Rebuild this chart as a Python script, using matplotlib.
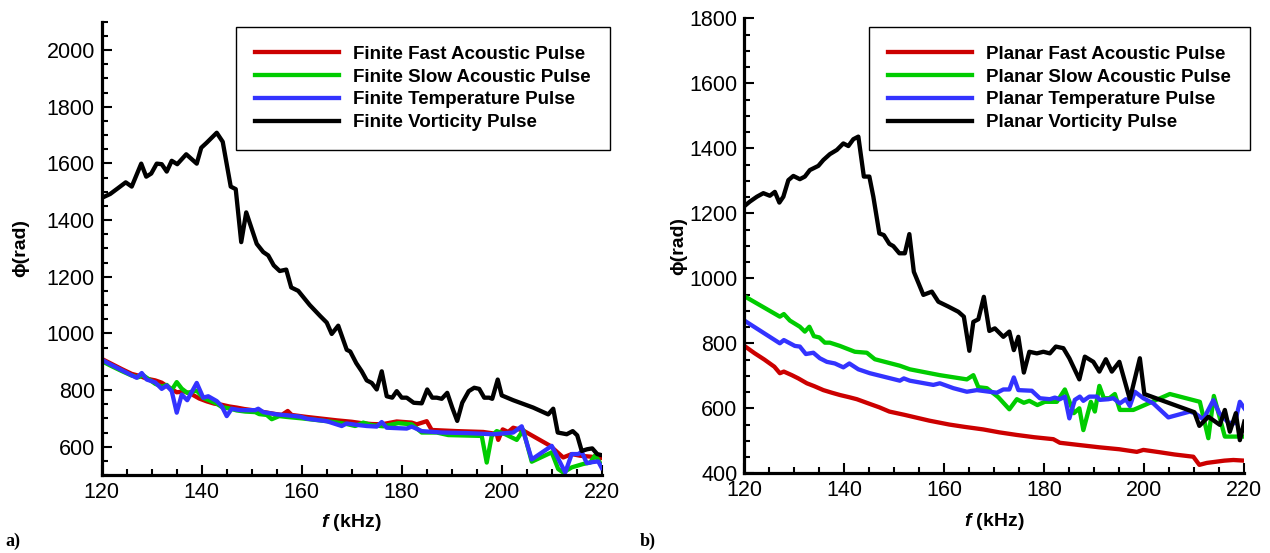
import matplotlib
matplotlib.use('Agg')
import matplotlib.pyplot as plt
from matplotlib.ticker import MultipleLocator

plt.rcParams['font.family'] = ['Liberation Sans', 'DejaVu Sans']
plt.rcParams['mathtext.fontset'] = 'custom'
plt.rcParams['mathtext.it'] = 'Liberation Sans:italic:bold'

# ---- a) finite pulses ----
fin_fast_f = [120, 122, 124, 126, 127.5, 129, 130.7, 132, 133, 135, 136.5, 138, 139.5, 141, 142.5,
              144, 145.5, 147, 148.5, 150.5, 152.5, 154.5, 156, 157.2, 158, 161, 164, 167, 170, 172,
              174, 176, 179, 182, 183, 185, 186, 191, 196.3, 199, 199.3, 200.2, 201.3, 202.3, 204.3,
              207, 209.7, 212.3, 214, 215.7, 217.7, 220]
fin_fast = [910, 892, 874, 857, 850, 840, 834, 826, 814, 792, 795, 785, 770, 760, 752,
            748, 742, 738, 733, 728, 722, 716, 712, 726, 712, 705, 699, 693, 688, 683,
            680, 679, 689, 685, 679, 690, 659, 655, 652, 645, 624, 661, 652, 667, 657,
            630, 603, 562, 574, 568, 565, 560]

fin_slow_f = [120, 122, 124, 126, 127.3, 128.3, 130.7, 132, 133, 134, 135, 136, 137.1, 139, 140.3,
              141.3, 143, 144, 145.5, 147, 148.7, 150.7, 151.5, 153, 154, 155.5, 157, 160, 163, 166,
              169, 170.7, 172.3, 174, 176.3, 179.3, 182, 184, 187, 189.3, 196, 197, 198, 199, 200.7,
              203, 204.3, 206, 210, 211.3, 212.3, 214, 216.3, 217.7, 218.7, 220]
fin_slow = [902, 884, 867, 851, 845, 852, 822, 812, 818, 800, 828, 805, 790, 798, 772,
            765, 752, 740, 735, 728, 724, 722, 715, 712, 697, 708, 705, 700, 694, 688,
            680, 673, 685, 676, 672, 683, 679, 650, 650, 641, 638, 544, 638, 655, 644,
            624, 659, 547, 580, 521, 509, 527, 539, 544, 570, 533]

fin_temp_f = [120, 122, 124, 127, 128, 129, 130.7, 132, 133, 134, 135, 136, 137.1, 139, 140.3,
              141.3, 143, 144, 145, 146, 147.7, 150.7, 151.3, 152.3, 155, 157, 159.7, 161, 165, 168,
              169, 171, 173, 175, 176, 177, 181, 182, 184, 188, 193, 198.3, 202.3, 204, 206,
              210, 212.7, 214, 215.3, 216, 217, 218.3, 219.3, 220]
fin_temp = [907, 888, 870, 843, 860, 837, 827, 804, 816, 796, 720, 784, 764, 825, 773,
            778, 761, 743, 708, 734, 729, 729, 734, 722, 714, 711, 706, 699, 690, 673,
            682, 677, 673, 671, 687, 667, 664, 671, 655, 650, 648, 644, 650, 672, 555,
            603, 509, 574, 574, 582, 542, 546, 548, 525]

fin_vort_f = [120.0, 121.7, 123.3, 124.8, 126.0, 127.9, 128.9, 129.9, 131.0, 132.0, 133.0, 134.0,
              135.1, 136.9, 139.0, 139.9, 141.0, 143.0, 144.2, 145.8, 146.8, 147.9, 148.9, 151.0,
              152.3, 153.3, 154.4, 155.6, 156.9, 157.9, 159.3, 161.6, 163.7, 165.0, 166.0, 167.3,
              169.0, 169.7, 170.9, 172.0, 173.0, 174.0, 175.0, 176.0, 177.0, 178.1, 179.0, 180.0,
              181.0, 182.4, 184.0, 185.1, 186.1, 187.0, 188.0, 189.1, 190.1, 191.1, 192.1, 193.4,
              194.5, 195.5, 196.5, 197.5, 198.1, 199.2, 200.0, 202.3, 206.3, 209.3, 210.3, 211.2,
              213.0, 214.2, 215.1, 216.0, 217.1, 218.1, 219.1, 220.0]
fin_vort = [1478, 1492, 1513, 1533, 1518, 1599, 1553, 1564, 1599, 1597, 1571, 1609,
            1597, 1632, 1599, 1655, 1673, 1708, 1676, 1518, 1509, 1322, 1427, 1316,
            1287, 1275, 1240, 1220, 1225, 1162, 1150, 1100, 1061, 1038, 998, 1027,
            942, 936, 895, 866, 834, 825, 802, 866, 778, 773, 796, 773,
            773, 755, 753, 802, 773, 773, 769, 790, 738, 691, 755, 796,
            808, 804, 773, 773, 769, 837, 781, 764, 738, 714, 734, 650,
            644, 655, 640, 585, 591, 594, 574, 570]

# ---- b) planar pulses ----
pl_fast_f = [120, 122, 124, 126, 127.1, 127.9, 129.5, 130.8, 132.5, 134, 135.8, 137.5, 139.1, 141,
             142.5, 145, 147, 149, 152, 154.5, 157, 161, 164, 167.8, 171, 174.5, 178, 181.8, 183.1,
             187, 191, 195, 198.5, 199.8, 203, 206, 209.8, 211, 212.5, 214.5, 216, 217.8, 220]
pl_fast = [792, 770, 750, 728, 708, 713, 702, 692, 677, 668, 656, 648, 641, 634,
           628, 614, 603, 590, 580, 571, 562, 550, 543, 535, 526, 518, 511, 505, 494,
           487, 480, 474, 466, 472, 465, 458, 451, 426, 432, 436, 439, 441, 439]

pl_slow_f = [120, 127.1, 127.9, 129.1, 131.1, 132.1, 133.0, 133.9, 135.0, 136.1, 137.1, 139.1,
             142.1, 144.5, 146.1, 151.1, 153.1, 159.1, 164.5, 165.8, 166.8, 168.5, 170.8, 173.0,
             174.5, 175.9, 177.0, 178.6, 180.1, 182.5, 184.1, 185.9, 187.0, 187.8, 189.3, 190.1,
             191.0, 191.9, 193.0, 194.1, 195.1, 197.8, 200.5, 205.1, 211.1, 212.8, 213.9, 216.1, 220]
pl_slow = [945, 882, 890, 870, 851, 836, 851, 822, 818, 802, 802, 792,
           774, 771, 751, 731, 720, 702, 689, 702, 665, 662, 634, 597,
           628, 617, 623, 610, 620, 620, 658, 585, 600, 533, 620, 590,
           669, 631, 631, 644, 595, 595, 613, 644, 620, 508, 638, 513, 513]

pl_temp_f = [120, 127.1, 127.9, 130.1, 131.1, 132.3, 133.8, 135.1, 136.5, 138.1, 139.8, 141.0,
             142.8, 145.1, 151.1, 151.9, 153.1, 157.8, 159.1, 161.8, 164.5, 166.5, 170.5, 171.8,
             173.0, 173.9, 174.8, 177.5, 179.1, 181.1, 182.1, 183.1, 184.1, 185.0, 186.1, 187.1,
             187.8, 189.0, 190.5, 191.1, 192.8, 193.8, 195.1, 196.3, 197.1, 198.1, 199.8, 201.8,
             204.8, 209.1, 210.1, 211.8, 213.8, 215.0, 216.8, 218.1, 219.1, 220]
pl_temp = [870, 800, 810, 792, 790, 767, 771, 754, 743, 738, 726, 738,
           720, 708, 685, 692, 685, 672, 677, 662, 651, 656, 648, 658,
           658, 695, 656, 654, 631, 628, 633, 628, 636, 569, 626, 636,
           623, 636, 636, 626, 628, 631, 615, 628, 607, 651, 631, 615,
           572, 590, 585, 566, 625, 585, 556, 554, 620, 600]

pl_vort_f = [120.0, 121.1, 122.5, 123.8, 125.1, 126.1, 127.0, 127.8, 128.8, 129.8, 131.1, 132.1,
             133.1, 134.8, 135.8, 137.1, 138.5, 139.8, 140.8, 141.8, 142.8, 143.9, 145.0, 145.8,
             147.0, 147.9, 149.0, 149.8, 151.0, 152.1, 153.0, 153.9, 155.8, 157.5, 158.8, 160.8,
             162.8, 163.9, 165.0, 165.8, 166.8, 167.9, 169.0, 170.1, 171.8, 173.0, 173.9, 174.8,
             175.9, 177.0, 178.5, 179.8, 181.1, 182.3, 183.8, 185.0, 187.0, 188.1, 189.8, 191.0,
             192.3, 193.5, 195.0, 197.1, 199.1, 200.0, 210.0, 211.0, 212.8, 215.1, 216.1, 217.1,
             218.3, 219.1, 220.0]
pl_vort = [1222, 1236, 1251, 1262, 1254, 1266, 1233, 1251, 1302, 1315, 1305, 1313,
           1333, 1346, 1364, 1382, 1395, 1415, 1407, 1428, 1436, 1313, 1313, 1251,
           1138, 1133, 1106, 1099, 1077, 1077, 1136, 1020, 949, 959, 928, 913,
           897, 882, 777, 866, 874, 943, 838, 846, 820, 836, 779, 820,
           710, 774, 769, 774, 769, 790, 785, 754, 689, 759, 743, 713,
           751, 713, 743, 628, 754, 644, 588, 546, 574, 549, 595, 528,
           585, 502, 559]

colors = ['#cc0000', '#00cc00', '#3333ff', 'black']
labels_a = ['Finite Fast Acoustic Pulse', 'Finite Slow Acoustic Pulse',
            'Finite Temperature Pulse', 'Finite Vorticity Pulse']
labels_b = ['Planar Fast Acoustic Pulse', 'Planar Slow Acoustic Pulse',
            'Planar Temperature Pulse', 'Planar Vorticity Pulse']


def style_axes(ax, ylim, ylab_x):
    ax.set_xlim(120, 220)
    ax.set_ylim(*ylim)
    ax.spines['top'].set_visible(False)
    ax.spines['right'].set_visible(False)
    ax.spines['left'].set_linewidth(2.3)
    ax.spines['bottom'].set_linewidth(2.3)
    ax.xaxis.set_major_locator(MultipleLocator(20))
    ax.xaxis.set_minor_locator(MultipleLocator(5))
    ax.yaxis.set_major_locator(MultipleLocator(200))
    ax.yaxis.set_minor_locator(MultipleLocator(50))
    ax.tick_params(which='both', direction='in', width=1.5, labelsize=15.5, pad=5)
    ax.tick_params(which='major', length=7.5)
    ax.tick_params(which='minor', length=4)
    ax.set_ylabel('\u03d5(rad)', fontsize=14, fontweight='bold')
    ax.yaxis.set_label_coords(ylab_x, 0.5)
    ax.set_xlabel(r'$f$ (kHz)', fontsize=14, fontweight='bold')
    ax.xaxis.set_label_coords(0.5, -0.082)


def add_legend(ax, x0):
    leg = ax.legend(loc='upper left', bbox_to_anchor=(x0, 0.951),
                    bbox_transform=ax.figure.transFigure, borderaxespad=0,
                    prop={'weight': 'bold', 'size': 13.5}, handlelength=4.5,
                    handletextpad=0.75, labelspacing=0.3, borderpad=1.0,
                    fancybox=False, framealpha=1, edgecolor='black')
    leg.get_frame().set_linewidth(1.0)


fig = plt.figure(figsize=(12.7, 5.53), dpi=100)
ax1 = fig.add_axes([0.0801, 0.1410, 0.3937, 0.8198])
ax2 = fig.add_axes([0.5861, 0.1441, 0.3937, 0.8228])

series_a = [(fin_fast_f, fin_fast), (fin_slow_f, fin_slow),
            (fin_temp_f, fin_temp), (fin_vort_f, fin_vort)]
for (f, v), c, lab in zip(series_a, colors, labels_a):
    ax1.plot(f, v, color=c, lw=3.1, label=lab)

series_b = [(pl_fast_f, pl_fast), (pl_slow_f, pl_slow),
            (pl_temp_f, pl_temp), (pl_vort_f, pl_vort)]
for (f, v), c, lab in zip(series_b, colors, labels_b):
    ax2.plot(f, v, color=c, lw=3.1, label=lab)

style_axes(ax1, (500, 2100), -0.145)
style_axes(ax2, (400, 1800), -0.115)
add_legend(ax1, 0.1858)
add_legend(ax2, 0.6843)

fig.text(0.004, 0.012, 'a)', family='Liberation Serif', weight='bold', fontsize=13)
fig.text(0.504, 0.012, 'b)', family='Liberation Serif', weight='bold', fontsize=13)

fig.savefig('out.png', dpi=100)
